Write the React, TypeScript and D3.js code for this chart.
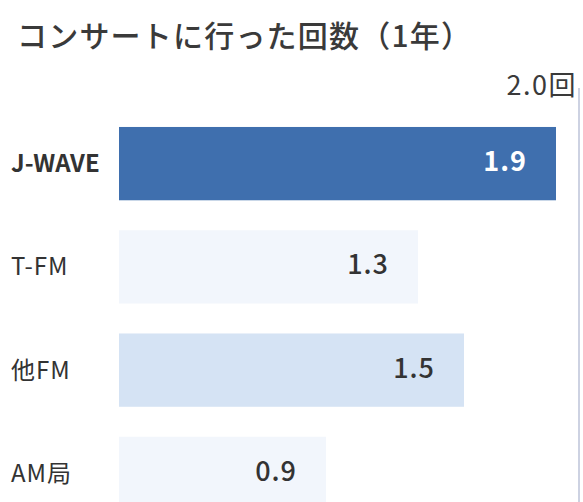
import React from "react";
import * as d3 from "d3";

const title = "コンサートに行った回数（1年）";
const categories = ["J-WAVE", "T-FM", "他FM", "AM局"];
const values = [1.9, 1.3, 1.5, 0.9];
const valueLabels = ["1.9", "1.3", "1.5", "0.9"];
const maxLabel = "2.0回";
const xMax = 2.0;

const W = 583;
const H = 502;
const FONT = "'Noto Sans CJK JP', 'Noto Sans', sans-serif";
const fills = ["#3f6fae", "#f2f6fc", "#d5e3f4", "#f2f6fc"];
const labelFills = ["#ffffff", "#333333", "#333333", "#333333"];

export default function App() {
  const x = d3.scaleLinear().domain([0, xMax]).range([119, 579]);
  const y = d3
    .scaleBand<string>()
    .domain(categories)
    .range([112, 525])
    .paddingInner(0.29)
    .paddingOuter(0.145);

  return (
    <svg
      width={W}
      height={H}
      style={{ position: "absolute", left: 0, top: 0, background: "#ffffff" }}
      fontFamily={FONT}
    >
      <text x={17} y={47} fontSize={30} fontWeight={500} letterSpacing={1.2} fill="#3a3a3a">
        {title}
      </text>
      <text
        x={577}
        y={95}
        fontSize={27}
        letterSpacing={1.5}
        fill="#3a3a3a"
        textAnchor="end"
      >
        {maxLabel}
      </text>
      <line
        x1={x(xMax)}
        x2={x(xMax)}
        y1={88}
        y2={H}
        stroke="#cdd2e2"
        strokeWidth={2}
      />
      {categories.map((c, i) => {
        const yy = y(c) as number;
        const bw = y.bandwidth();
        return (
          <g key={c}>
            <rect
              x={x(0)}
              y={yy}
              width={x(values[i]) - x(0)}
              height={bw}
              fill={fills[i]}
            />
            <text
              x={11}
              y={yy + bw / 2}
              dy="0.35em"
              fontSize={24}
              fontWeight={i === 0 ? 700 : 400}
              letterSpacing={i === 0 ? 0 : 1}
              fill="#333333"
            >
              {c}
            </text>
            <text
              x={x(values[i]) - 29}
              y={yy + bw / 2 - 2}
              dy="0.35em"
              fontSize={27}
              fontWeight={i === 0 ? 700 : 500}
              letterSpacing={1}
              fill={labelFills[i]}
              textAnchor="end"
            >
              {valueLabels[i]}
            </text>
          </g>
        );
      })}
    </svg>
  );
}
